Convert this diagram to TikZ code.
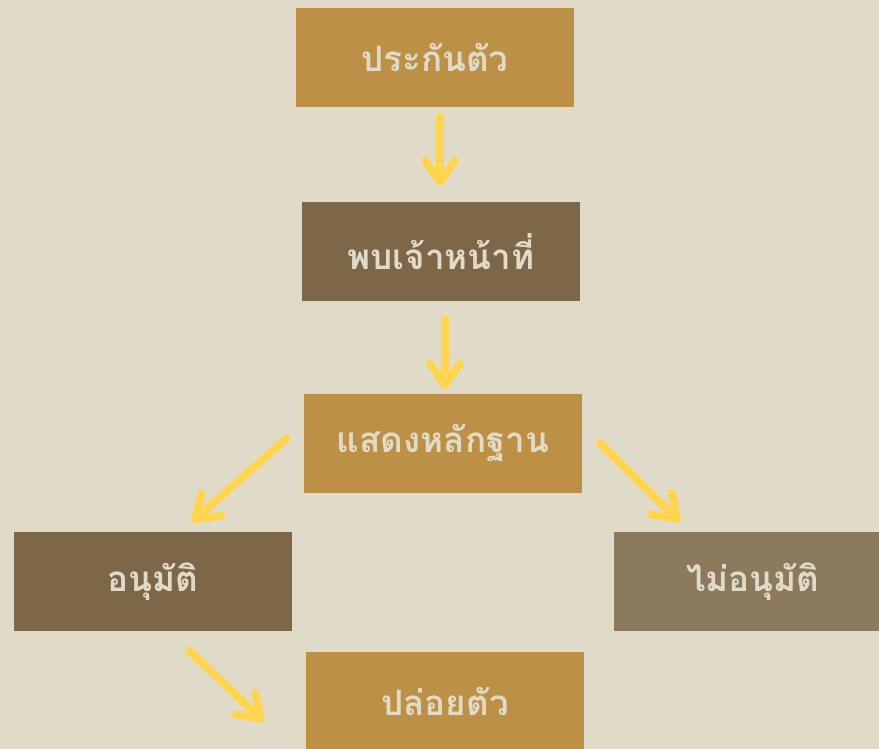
\documentclass[tikz,border=0pt]{standalone}
\usepackage{fontspec}
\newfontfamily\thaifont[Script=Thai]{Loma}
\usetikzlibrary{arrows.meta,positioning}
\definecolor{paper}{HTML}{E0DBC8}
\definecolor{boxgold}{HTML}{BC9145}
\definecolor{boxdark}{HTML}{7D6749}
\definecolor{boxgray}{HTML}{8B7B5C}
\definecolor{flowyellow}{HTML}{FFD54F}
\tikzset{stepelement/.style={
       rectangle,
       minimum width=278pt,
       minimum height=99pt,
       inner sep=0,
       text=paper,
       font=\thaifont\bfseries\fontsize{35}{42}\selectfont
     },
     goldstep/.style={stepelement,fill=boxgold},
     darkstep/.style={stepelement,fill=boxdark},
     graystep/.style={stepelement,fill=boxgray}
}

\begin{document}
\begin{tikzpicture}[
    x=1pt,y=-1pt,
    flow/.style={draw=flowyellow,line width=8pt,line cap=round,
                 -{Straight Barb[length=22pt,width=30pt,round]}}]
    \useasboundingbox[fill=paper] (0,0) rectangle (879,749);

    \node[goldstep] (bail) at (435,57.5) {ประกันตัว};
    \node[darkstep] (officer) [below=95pt of bail,xshift=6pt] {พบเจ้าหน้าที่};
    \node[goldstep] (proof) [below=92pt of officer,xshift=2pt] {แสดงหลักฐาน};
    \node[darkstep] (approved) at (153,581.5) {อนุมัติ};
    \node[graystep] (rejected) at (753,581.5) {ไม่อนุมัติ};
    \node[goldstep] (release) at (445,701.5) {ปล่อยตัว};

    % arrows between the steps
    \draw[flow] ([xshift=5pt,yshift=-9pt]bail.south) -- ([xshift=-1pt,yshift=16pt]officer.north);
    \draw[flow] ([xshift=4pt,yshift=-18pt]officer.south) -- ([xshift=2pt,yshift=4pt]proof.north);
    \draw[flow] ([xshift=-17pt,yshift=5pt]proof.west) -- ([xshift=39pt,yshift=10pt]approved.north);
    \draw[flow] ([xshift=18pt,yshift=0pt]proof.east) -- ([xshift=-73pt,yshift=10pt]rejected.north);
    \draw[flow] ([xshift=36pt,yshift=-19pt]approved.south) -- ([xshift=-42pt,yshift=-20pt]release.west);
  \end{tikzpicture}
\end{document}
